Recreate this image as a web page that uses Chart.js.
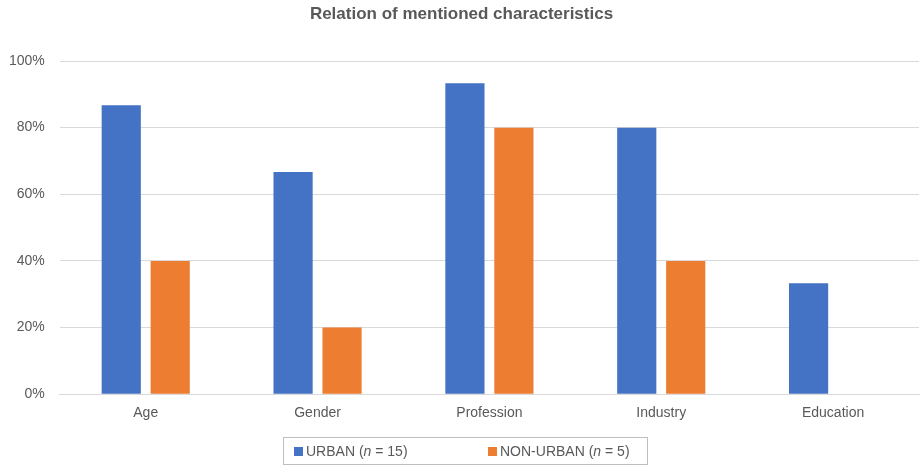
<!DOCTYPE html>
<html>
<head>
<meta charset="utf-8">
<script src="https://cdn.jsdelivr.net/npm/chart.js@4"></script>
<style>
  body { margin: 0; background: #fff; }
  #wrap { position: relative; width: 923px; height: 465px; }
  #title {
    position: absolute; left: 0; top: 4px; width: 923px; text-align: center;
    font-family: "Liberation Sans", Arial, sans-serif; font-size: 17px; font-weight: bold; color: #595959;
  }
  #legend {
    position: absolute; left: 283px; top: 437px; width: 365px; height: 28px;
    border: 1px solid #bfbfbf; box-sizing: border-box;
    font-family: "Liberation Sans", Arial, sans-serif; font-size: 14px; color: #595959;
  }
  #legend span.item { position: absolute; top: 5px; }
  #legend i.box { display: inline-block; width: 9px; height: 9px; margin-right: 3px; vertical-align: 0px; }
</style>
</head>
<body>
<div id="wrap">
  <canvas id="relationChart" width="923" height="465"></canvas>
  <div id="title">Relation of mentioned characteristics</div>
  <div id="legend">
    <span class="item" style="left:10px"><i class="box" style="background:#4472c4"></i>URBAN (<em>n</em> = 15)</span>
    <span class="item" style="left:204px"><i class="box" style="background:#ed7d31"></i>NON-URBAN (<em>n</em> = 5)</span>
  </div>
</div>
<script>
const categories = ['Age', 'Gender', 'Profession', 'Industry', 'Education'];
const urban = [0.867, 0.667, 0.933, 0.80, 0.333];
const nonUrban = [0.40, 0.20, 0.80, 0.40, 0];
const yTicks = [0, 0.2, 0.4, 0.6, 0.8, 1];

const relationCtx = document.getElementById('relationChart');

new Chart(relationCtx, {
    type: 'bar',
    data: {
        labels: categories,
        datasets: [{
            label: 'URBAN (n = 15)',
            data: urban,
            backgroundColor: '#4472c4'
        }, {
            label: 'NON-URBAN (n = 5)',
            data: nonUrban,
            backgroundColor: '#ed7d31'
        }]
    },
    options: {
        responsive: false,
        animation: false,
        categoryPercentage: 0.57,
        barPercentage: 0.8,
        layout: { padding: { left: -6, right: 4, top: 61, bottom: 40 } },
        plugins: {
            legend: { display: false },
            tooltip: { enabled: false },
            title: { display: false }
        },
        scales: {
            x: {
                grid: { display: false },
                border: { color: '#d9d9d9' },
                ticks: {
                    color: '#595959',
                    font: { family: 'Liberation Sans, Arial, sans-serif', size: 14 },
                    padding: 3
                }
            },
            y: {
                min: 0,
                max: 1,
                afterBuildTicks: axis => { axis.ticks = yTicks.map(v => ({ value: v })); },
                grid: { color: '#d9d9d9', drawTicks: false },
                border: { display: false },
                ticks: {
                    color: '#595959',
                    font: { family: 'Liberation Sans, Arial, sans-serif', size: 14 },
                    padding: 15,
                    callback: v => Math.round(v * 100) + '%'
                }
            }
        }
    }
});
</script>
</body>
</html>
